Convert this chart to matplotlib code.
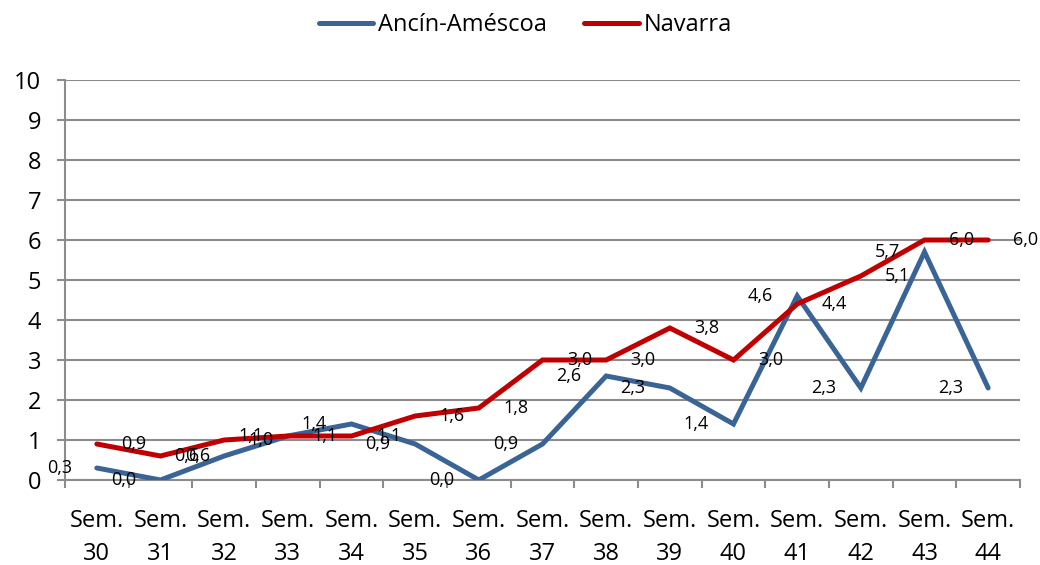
import matplotlib
matplotlib.use("Agg")
import matplotlib.pyplot as plt
from matplotlib.ticker import FixedLocator

categories = ["Sem.\n30", "Sem.\n31", "Sem.\n32", "Sem.\n33", "Sem.\n34", "Sem.\n35",
              "Sem.\n36", "Sem.\n37", "Sem.\n38", "Sem.\n39", "Sem.\n40", "Sem.\n41",
              "Sem.\n42", "Sem.\n43", "Sem.\n44"]
ancin = [0.3, 0.0, 0.6, 1.1, 1.4, 0.9, 0.0, 0.9, 2.6, 2.3, 1.4, 4.6, 2.3, 5.7, 2.3]
navarra = [0.9, 0.6, 1.0, 1.1, 1.1, 1.6, 1.8, 3.0, 3.0, 3.8, 3.0, 4.4, 5.1, 6.0, 6.0]
series_names = ["Ancín-Améscoa", "Navarra"]
yticks = list(range(0, 11))

plt.rcParams['font.family'] = ['Open Sans', 'DejaVu Sans']

fig = plt.figure(figsize=(10.4, 5.65), dpi=100)
ax = fig.add_axes([65/1040, 1 - 480/565, (1020-65)/1040, 400/565])

x = list(range(len(categories)))
blue = "#3A6496"
red = "#C00000"
grid = "#8C8C8C"

ax.plot(x, ancin, color=blue, lw=3.6, solid_joinstyle='miter', solid_capstyle='round',
        label=series_names[0], zorder=3)
ax.plot(x, navarra, color=red, lw=3.6, solid_joinstyle='miter', solid_capstyle='round',
        label=series_names[1], zorder=4)

def fmt(v):
    return f"{v:.1f}".replace(".", ",")

for xi, v in zip(x, ancin):
    ax.annotate(fmt(v), (xi, v), xytext=(-37, 0), textcoords='offset pixels',
                ha='center', va='center', fontsize=13, color='black', zorder=5)
for xi, v in zip(x, navarra):
    ax.annotate(fmt(v), (xi, v), xytext=(37, 0), textcoords='offset pixels',
                ha='center', va='center', fontsize=13, color='black', zorder=5)

ax.set_xlim(-0.5, len(categories) - 0.5)
ax.set_ylim(0, 10)
ax.set_yticks(yticks)
ax.set_yticklabels([str(t) for t in yticks], fontsize=17)
ax.yaxis.grid(True, color=grid, lw=1.5)
ax.set_axisbelow(True)

ax.xaxis.set_major_locator(FixedLocator([i - 0.5 for i in range(len(categories) + 1)]))
ax.xaxis.set_major_formatter(matplotlib.ticker.NullFormatter())
ax.xaxis.set_minor_locator(FixedLocator(x))
ax.set_xticklabels(categories, minor=True, fontsize=17, linespacing=1.5)
ax.tick_params(axis='x', which='major', length=6, width=1.5, color=grid, direction='out')
ax.tick_params(axis='x', which='minor', length=0, pad=21)
ax.tick_params(axis='y', length=6, width=1.5, color=grid, pad=11)

for s in ['top', 'right']:
    ax.spines[s].set_visible(False)
for s in ['left', 'bottom']:
    ax.spines[s].set_color(grid)
    ax.spines[s].set_linewidth(1.5)

fig.legend(loc='center', bbox_to_anchor=(0.505, 1 - 25/565), ncol=2, frameon=False,
           fontsize=17, handlelength=2.3, handletextpad=0.2, columnspacing=1.6)

fig.savefig("out.png", dpi=100)
